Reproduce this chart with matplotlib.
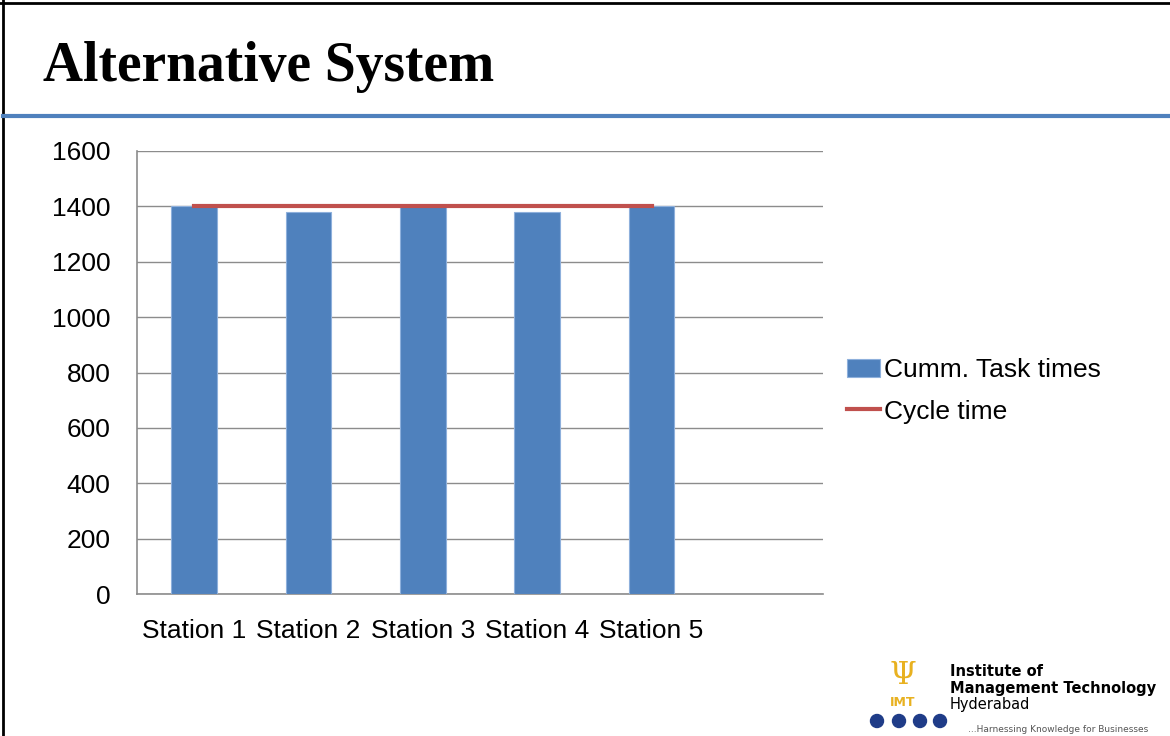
import matplotlib.pyplot as plt
from matplotlib.patches import Ellipse
from matplotlib.lines import Line2D

stations = ["Station 1", "Station 2", "Station 3", "Station 4", "Station 5"]
task_times = [1400, 1380, 1400, 1380, 1400]
cycle_time = [1400, 1400, 1400, 1400, 1400]
y_ticks = [0, 200, 400, 600, 800, 1000, 1200, 1400, 1600]

bar_color = "#4F81BD"
line_color = "#C0504D"

fig = plt.figure(figsize=(11.7, 7.36), dpi=100)
W, H = 1170, 736

# slide frame and title
fig.add_artist(Line2D([3 / W, 3 / W], [0, 1], color="black", lw=2))
fig.add_artist(Line2D([0, 1], [1 - 3 / H, 1 - 3 / H], color="black", lw=2))
fig.add_artist(Line2D([3 / W, 1], [1 - 116 / H, 1 - 116 / H], color="#4F81BD", lw=3))
fig.text(43 / W, 1 - 67 / H, "Alternative System", fontsize=40, fontweight="bold",
         family="Liberation Serif", va="center", ha="left")

ax = fig.add_axes([137 / W, 1 - 594 / H, (823 - 137) / W, (594 - 151) / H])
x = list(range(len(stations)))
ax.bar(x, task_times, width=0.4, color=bar_color, edgecolor="#8EB0DC", linewidth=0.8,
       label="Cumm. Task times", zorder=3)
ax.plot(x, cycle_time, color=line_color, lw=3, label="Cycle time", zorder=4)

ax.set_xlim(-0.5, 5.5)
ax.set_ylim(0, 1600)
ax.set_yticks(y_ticks)
ax.set_xticks(x)
ax.set_xticklabels(stations)
ax.grid(axis="y", color="#8C8C8C", lw=1, zorder=0)
for s in ["top", "right"]:
    ax.spines[s].set_visible(False)
for s in ["left", "bottom"]:
    ax.spines[s].set_color("#8C8C8C")
    ax.spines[s].set_linewidth(1.2)
ax.tick_params(axis="y", length=0, labelsize=19, pad=19)
ax.tick_params(axis="x", length=0, labelsize=19, pad=18)
for lab in ax.get_xticklabels() + ax.get_yticklabels():
    lab.set_family("Liberation Sans")

handles, labels = ax.get_legend_handles_labels()
order = [labels.index("Cumm. Task times"), labels.index("Cycle time")]
ax.legend([handles[i] for i in order], [labels[i] for i in order],
          loc="center left", bbox_to_anchor=(847 / W, 1 - 391 / H), bbox_transform=fig.transFigure,
          frameon=False, prop={"family": "Liberation Sans", "size": 19},
          handlelength=1.25, handletextpad=0.15, labelspacing=0.65, borderaxespad=0, borderpad=0)

# logo
fig.text(950 / W, 1 - 672 / H, "Institute of", fontsize=10.5, fontweight="bold", va="center")
fig.text(950 / W, 1 - 689 / H, "Management Technology", fontsize=10.5, fontweight="bold", va="center")
fig.text(950 / W, 1 - 705 / H, "Hyderabad", fontsize=10.5, va="center")
fig.text(968 / W, 1 - 730 / H, "...Harnessing Knowledge for Businesses", fontsize=6.5,
         color="#555555", va="center")
fig.text(903 / W, 1 - 703 / H, "IMT", fontsize=9, fontweight="bold", color="#E8B120",
         ha="center", va="center")
fig.text(903 / W, 1 - 675 / H, "\u03a8", fontsize=22, color="#E8B120", ha="center", va="center",
         family="DejaVu Serif")
for cx in [877, 899, 920, 940]:
    fig.add_artist(Ellipse((cx / W, 1 - 721 / H), 13 / W, 13 / H, transform=fig.transFigure,
                           color="#1F3C88"))

fig.savefig("out.png", dpi=100)
